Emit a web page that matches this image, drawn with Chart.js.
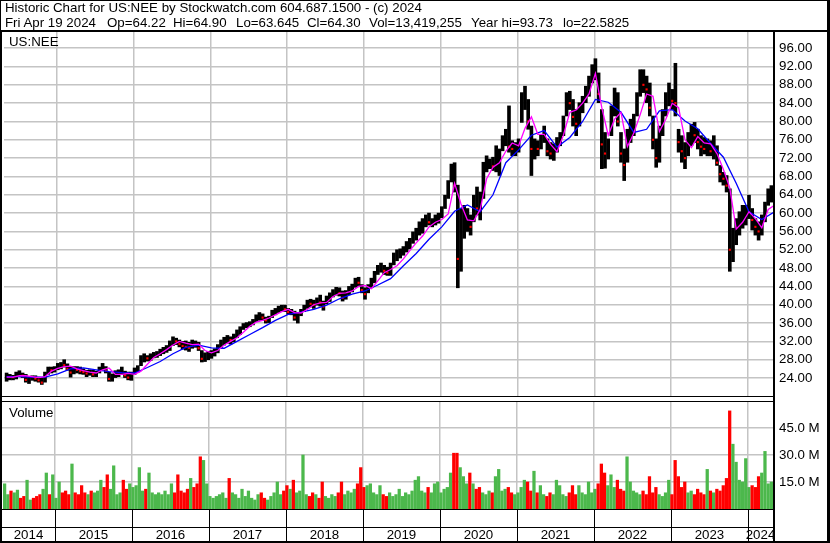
<!DOCTYPE html>
<html>
<head>
<meta charset="utf-8">
<title>Historic Chart for US:NEE</title>
<script src="https://cdn.jsdelivr.net/npm/chart.js@4.4.1/dist/chart.umd.min.js"></script>
<style>
  html, body { margin: 0; padding: 0; background: #fff; }
  #wrap { position: relative; width: 830px; height: 543px; overflow: hidden;
          font-family: 'Liberation Sans', Arial, sans-serif; font-size: 13.3px; color: #000; }
  #wrap canvas { position: absolute; left: 0; }
  .txt { position: absolute; white-space: pre; line-height: 14px; }
</style>
</head>
<body>
<div id="wrap">
  <canvas id="priceChart" width="830" height="400" style="top:0"></canvas>
  <canvas id="volChart" width="830" height="143" style="top:400px"></canvas>
  <div class="txt" style="left:5px;top:1px">Historic Chart for US:NEE by Stockwatch.com 604.687.1500 - (c) 2024</div>
  <div class="txt" style="left:5px;top:16px">Fri Apr 19 2024</div>
  <div class="txt" style="left:107px;top:16px">Op=64.22</div>
  <div class="txt" style="left:173px;top:16px">Hi=64.90</div>
  <div class="txt" style="left:236px;top:16px">Lo=63.645</div>
  <div class="txt" style="left:307px;top:16px">Cl=64.30</div>
  <div class="txt" style="left:369px;top:16px">Vol=13,419,255</div>
  <div class="txt" style="left:471px;top:16px">Year hi=93.73</div>
  <div class="txt" style="left:563px;top:16px">lo=22.5825</div>
  <div class="txt" style="left:9px;top:35px">US:NEE</div>
  <div class="txt" style="left:9px;top:406px">Volume</div>
</div>
<script>
// half-month periods, Apr 2014 .. Apr 2024 (240 of them)
const highs = [
  25.1, 24.8, 24.6, 25.3, 25.6, 25.1, 24.8, 24.3, 24.5, 24.5,
  24.2, 24.1, 25.3, 26.4, 26.4, 26.5, 27.2, 27.4, 28.0, 27.1,
  26.4, 26.5, 26.5, 26.4, 26.0, 25.7, 25.8, 25.7, 25.5, 26.4,
  27.2, 26.5, 25.3, 24.9, 25.6, 25.8, 26.4, 25.5, 25.3, 25.3,
  26.2, 26.7, 28.9, 29.3, 28.9, 29.3, 29.6, 29.8, 30.3, 30.7,
  31.1, 32.1, 33.0, 32.7, 32.3, 32.0, 32.1, 31.8, 32.3, 32.1,
  31.8, 30.0, 29.5, 29.8, 30.0, 30.4, 31.3, 32.3, 32.9, 33.3,
  33.0, 33.6, 34.5, 35.2, 35.9, 36.1, 36.3, 36.8, 37.8, 38.3,
  38.0, 37.3, 37.5, 38.8, 39.2, 39.7, 39.9, 39.9, 39.2, 39.0,
  38.6, 38.3, 39.0, 39.9, 41.0, 41.2, 41.0, 41.5, 42.1, 40.8,
  41.9, 42.6, 43.3, 43.8, 43.7, 43.0, 43.1, 44.0, 44.5, 45.8,
  46.0, 44.4, 43.7, 44.4, 45.8, 47.3, 48.6, 49.1, 48.6, 48.2,
  49.1, 51.3, 52.0, 52.2, 52.7, 53.8, 54.5, 55.9, 56.7, 58.1,
  58.8, 59.6, 60.0, 58.8, 59.6, 60.0, 61.4, 63.9, 67.1, 70.7,
  71.0, 66.1, 61.0, 61.7, 61.0, 59.6, 63.9, 65.7, 64.6, 71.1,
  72.5, 71.8, 72.2, 74.7, 74.0, 76.9, 78.3, 83.4, 75.8, 75.4,
  76.2, 86.3, 87.7, 84.8, 79.0, 76.2, 75.8, 77.2, 79.0, 76.2,
  75.4, 75.1, 76.5, 77.6, 81.2, 86.3, 86.6, 84.8, 82.6, 84.1,
  85.5, 87.7, 89.9, 92.4, 93.7, 90.6, 82.6, 77.6, 76.2, 83.4,
  87.3, 86.3, 77.6, 74.0, 78.3, 80.5, 81.6, 86.3, 91.3, 91.3,
  89.9, 88.4, 81.2, 76.2, 79.0, 82.6, 86.3, 88.4, 87.0, 92.7,
  78.3, 76.9, 75.4, 77.6, 79.4, 79.8, 78.3, 76.9, 76.5, 76.2,
  75.8, 76.9, 74.7, 70.4, 68.9, 68.2, 65.3, 56.7, 58.8, 60.3,
  61.7, 61.7, 63.9, 61.0, 58.8, 58.1, 59.6, 62.4, 65.3, 66.0
];
const lows = [
  23.3, 23.6, 23.6, 23.8, 24.3, 24.1, 23.1, 22.8, 23.5, 23.3,
  23.1, 22.6, 23.1, 24.8, 25.1, 25.3, 25.8, 26.0, 26.4, 25.7,
  24.2, 24.9, 25.1, 24.9, 24.8, 24.3, 24.6, 24.3, 24.3, 25.1,
  25.7, 25.1, 23.3, 23.3, 24.1, 24.3, 24.8, 24.1, 23.6, 23.5,
  24.8, 25.3, 26.7, 27.5, 27.7, 27.8, 28.4, 28.5, 28.9, 29.3,
  29.6, 30.0, 31.1, 31.3, 30.8, 30.3, 30.1, 29.8, 30.5, 30.7,
  30.0, 27.5, 27.6, 28.0, 28.3, 28.8, 29.5, 30.5, 31.2, 31.6,
  31.4, 31.9, 32.8, 33.5, 34.6, 35.0, 35.2, 35.6, 36.3, 36.6,
  36.6, 36.0, 36.1, 37.2, 37.8, 38.3, 38.6, 38.5, 37.9, 37.8,
  36.6, 36.0, 37.6, 38.5, 39.2, 39.5, 39.2, 39.9, 39.7, 38.8,
  40.2, 40.7, 41.7, 42.1, 41.9, 40.8, 41.2, 42.2, 42.8, 43.8,
  44.0, 42.6, 41.2, 42.6, 43.7, 44.8, 46.6, 47.1, 46.6, 46.4,
  46.4, 48.7, 49.6, 50.2, 50.8, 51.5, 52.2, 53.4, 54.1, 55.2,
  55.6, 57.0, 57.4, 57.0, 57.4, 57.8, 59.0, 61.0, 63.2, 66.8,
  64.6, 43.7, 47.3, 54.5, 56.0, 55.2, 58.1, 59.6, 58.5, 63.2,
  69.0, 69.7, 69.3, 69.0, 68.2, 73.6, 74.7, 73.3, 72.5, 72.5,
  73.3, 79.8, 82.6, 78.3, 68.2, 71.8, 72.5, 74.0, 75.4, 72.5,
  71.8, 71.5, 73.3, 74.7, 76.9, 81.2, 82.6, 79.0, 76.9, 79.0,
  81.9, 84.1, 85.5, 88.4, 89.1, 84.1, 69.7, 69.8, 71.8, 76.9,
  81.2, 79.0, 71.1, 67.1, 71.1, 75.4, 76.9, 81.2, 85.5, 86.3,
  84.1, 81.2, 74.0, 70.0, 71.1, 76.9, 81.2, 83.4, 82.6, 81.2,
  73.3, 71.1, 69.7, 72.5, 74.7, 75.4, 74.0, 72.5, 72.9, 72.5,
  72.5, 71.8, 70.4, 66.8, 66.1, 64.6, 47.3, 49.4, 53.1, 55.2,
  56.7, 57.4, 58.8, 56.3, 55.2, 54.1, 55.2, 58.1, 61.7, 62.4
];
const closes = [
  24.0, 24.3, 24.2, 24.8, 25.0, 24.5, 23.6, 24.0, 24.2, 23.9,
  23.5, 23.0, 25.0, 26.0, 25.7, 26.2, 26.8, 27.0, 26.8, 26.0,
  25.2, 25.9, 25.8, 25.5, 25.3, 25.0, 25.2, 24.8, 25.0, 26.0,
  26.6, 25.6, 23.8, 24.3, 25.0, 25.2, 25.6, 24.6, 24.1, 24.6,
  25.7, 26.3, 28.3, 28.5, 28.3, 28.6, 29.2, 29.5, 29.8, 30.3,
  30.5, 31.5, 32.5, 32.0, 31.4, 31.0, 30.8, 30.6, 31.5, 31.2,
  30.5, 28.2, 28.5, 29.0, 29.2, 29.8, 30.9, 31.9, 32.4, 32.6,
  32.3, 33.2, 34.0, 34.8, 35.4, 35.6, 35.9, 36.5, 37.4, 37.8,
  37.2, 36.6, 37.0, 38.4, 38.6, 39.2, 39.4, 39.0, 38.4, 38.5,
  37.2, 37.6, 38.6, 39.5, 40.4, 40.2, 40.0, 41.0, 40.5, 39.6,
  41.5, 42.0, 42.8, 43.1, 42.5, 41.5, 42.6, 43.5, 44.0, 45.2,
  44.8, 43.2, 42.3, 44.0, 45.3, 46.5, 48.0, 48.3, 47.4, 47.0,
  48.5, 50.5, 51.2, 51.5, 52.0, 53.0, 53.6, 55.0, 55.6, 57.3,
  58.0, 58.5, 58.0, 58.2, 59.0, 59.5, 60.8, 63.0, 66.0, 68.0,
  66.0, 50.0, 55.0, 58.0, 58.4, 57.0, 62.5, 61.0, 60.5, 69.0,
  70.5, 70.8, 70.2, 71.0, 72.0, 75.0, 76.5, 74.5, 74.0, 74.3,
  75.5, 84.0, 85.0, 80.0, 74.0, 74.5, 74.0, 76.0, 77.5, 73.5,
  73.0, 73.5, 75.5, 76.5, 80.0, 85.0, 84.0, 81.0, 79.5, 82.5,
  84.0, 86.5, 88.5, 91.0, 91.5, 86.0, 75.0, 73.0, 74.5, 81.0,
  85.0, 80.0, 73.0, 70.5, 76.0, 78.0, 80.0, 84.5, 89.0, 88.0,
  87.0, 83.0, 76.0, 72.0, 77.0, 80.5, 84.0, 86.0, 84.5, 84.0,
  75.5, 73.5, 72.0, 76.0, 78.5, 77.0, 75.5, 74.5, 74.0, 74.2,
  73.5, 74.5, 71.0, 68.5, 67.5, 66.0, 52.0, 54.0, 56.5, 58.0,
  59.5, 60.0, 60.5, 58.5, 57.0, 56.0, 58.0, 61.0, 63.5, 64.3
];
// volume per period, millions of shares
const volumes = [
  14, 8, 10, 9, 10.5, 6, 7, 16, 5, 6, 7, 8, 11, 20, 8, 19, 6,
  15, 9, 10, 8, 25, 9, 8, 13, 9, 8, 10, 9, 10, 16, 12, 19, 11, 24, 8, 9, 16, 11, 14, 12,
  13, 23, 10, 11, 20, 9, 8, 9, 8, 10, 8, 14, 9, 19, 10, 9, 11, 17, 12, 14, 29, 27, 14, 7,
  6, 7, 8, 9, 6, 17, 9, 8, 6, 11, 7, 10, 6, 5, 8, 9, 6, 5, 7, 9, 15, 8, 10, 13,
  11, 16, 9, 10, 30, 8, 7, 9, 8, 6, 15, 7, 6, 8, 7, 9, 15, 8, 10, 9, 11, 14, 23, 12,
  13, 14, 9, 8, 13, 8, 7, 9, 7, 8, 11, 7, 9, 8, 10, 16, 18, 10, 9, 12, 9, 14, 15, 9,
  11, 12, 20, 31, 31, 23, 18, 14, 20, 14, 11, 12, 9, 8, 10, 9, 18, 22, 10, 11, 12, 9, 8, 9,
  12, 16, 15, 10, 21, 9, 13, 8, 7, 9, 8, 16, 13, 8, 7, 9, 13, 8, 13, 9, 8, 15, 9, 11,
  14, 25, 20, 13, 19, 12, 16, 11, 10, 29, 15, 10, 9, 8, 10, 8, 18, 9, 12, 8, 7, 9, 16, 8,
  27, 18, 12, 15, 9, 10, 8, 11, 9, 8, 22, 10, 9, 11, 10, 13, 17, 54.5, 36, 26, 16, 15, 28, 12,
  13, 12, 18, 20, 32, 14, 15
];
// short average (magenta), one value a month
const fastMa = [
  24.2, 24.2, 24.5, 24.5, 24.3, 24.1, 24.3, 25.5, 26.1, 26.5,
  26.6, 26.0, 25.6, 25.3, 25.1, 25.8, 26.2, 24.8, 24.8, 25.0,
  24.8, 25.5, 27.0, 28.5, 29.3, 30.2, 31.2, 32.0, 31.6, 31.3,
  31.4, 30.0, 29.5, 30.0, 31.2, 32.0, 32.8, 34.0, 35.3, 36.2,
  36.6, 37.1, 37.8, 38.5, 39.0, 38.3, 38.2, 39.0, 40.0, 40.4,
  40.5, 41.8, 42.5, 42.6, 43.0, 44.0, 44.2, 43.5, 45.2, 47.0,
  47.7, 48.5, 50.0, 51.8, 53.5, 55.0, 57.0, 58.0, 58.6, 59.8,
  66.5, 62.0, 58.5, 58.3, 60.8, 67.5, 70.0, 71.0, 73.5, 75.3,
  74.7, 78.5, 81.0, 77.2, 77.2, 75.0, 73.4, 77.0, 82.0, 82.5,
  84.0, 86.0, 90.5, 83.0, 77.0, 80.5, 82.0, 74.5, 77.5, 81.5,
  86.0, 85.5, 77.8, 80.5, 84.0, 83.0, 76.0, 74.3, 76.7, 75.3,
  75.1, 73.0, 69.5, 65.5, 56.5, 58.0, 60.3, 58.8, 56.8, 60.8, 61.7
];
// long average (blue), one value every two months
const slowMa = [
  24.3, 24.3, 24.2, 24.2, 24.9, 26.0, 26.2, 25.8, 25.4, 25.2,
  25.1, 26.3, 27.6, 29.3, 30.7, 31.2, 30.6, 30.5, 32.0, 33.5,
  35.0, 36.6, 37.9, 38.4, 39.0, 39.9, 41.3, 42.3, 43.0, 44.3,
  45.7, 48.5, 51.2, 54.3, 57.0, 60.4, 61.8, 60.3, 64.0, 71.0,
  73.8, 77.0, 78.0, 74.4, 76.5, 80.0, 84.8, 84.2, 82.0, 77.6,
  78.3, 82.3, 82.6, 80.1, 78.4, 75.2, 72.2, 66.5, 60.3, 58.6, 60.3
];
const priceTicks = [24, 28, 32, 36, 40, 44, 48, 52, 56, 60, 64, 68, 72, 76, 80, 84, 88, 92, 96];
const volumeTicks = [15, 30, 45];
const yearStarts = [2015, 2016, 2017, 2018, 2019, 2020, 2021, 2022, 2023, 2024];
const yearLabels = ['2014', '2015', '2016', '2017', '2018', '2019', '2020', '2021', '2022', '2023', '2024'];

const FIRST = 2014.325;      // start of first half-month period (in years)
const X_MIN = 2014.312, X_MAX = 2024.325;
const periodX = i => FIRST + (i + 0.5) / 24;

const FONT = { family: "'Liberation Sans', Arial, sans-serif", size: 13.3 };
const GRID = '#c4c4c4';
const GREEN = '#4cb84c', RED = '#ff0000', GRAY = '#a8a8a8';

const direction = closes.map((c, i) => i === 0 || c > closes[i - 1] ? 1 : (c < closes[i - 1] ? -1 : 0));

const bounds = [X_MIN, ...yearStarts, X_MAX];
const yearMids = yearLabels.map((_, k) => (bounds[k] + bounds[k + 1]) / 2);

const fixWidth = s => { s.width = 57; s.paddingTop = 0; s.paddingBottom = 0; };

const priceFrame = {
  id: 'priceFrame',
  afterDraw(chart) {
    const ctx = chart.ctx, a = chart.chartArea;
    ctx.save();
    ctx.fillStyle = '#000';
    ctx.fillRect(0, 0, 830, 1);
    ctx.fillRect(0, 0, 1, 30);
    ctx.fillRect(0, 30, 830, 2);
    ctx.fillRect(0, 30, 2, chart.height);
    ctx.fillRect(a.right, 30, 2, chart.height);
    ctx.fillRect(827, 0, 3, chart.height);
    ctx.fillRect(0, a.bottom, a.right, 1);
    ctx.restore();
  }
};

const volumeFrame = {
  id: 'volumeFrame',
  afterDraw(chart) {
    const ctx = chart.ctx, a = chart.chartArea, H = chart.height;
    const xs = chart.scales.x;
    ctx.save();
    ctx.fillStyle = '#000';
    ctx.fillRect(0, 1, a.right, 1);
    ctx.fillRect(0, a.bottom, a.right, 1);
    ctx.fillRect(0, a.bottom + 18, a.right, 1);
    yearStarts.forEach(y => {
      const px = Math.round(xs.getPixelForValue(y));
      ctx.fillRect(px, a.bottom, 1, H - a.bottom);
    });
    ctx.fillRect(0, H - 2, 830, 2);
    ctx.fillRect(0, 0, 2, H);
    ctx.fillRect(a.right, 0, 2, H);
    ctx.fillRect(827, 0, 3, H);
    ctx.restore();
  }
};

new Chart(document.getElementById('priceChart'), {
  type: 'bar',
  data: {
    datasets: [
      {
        type: 'line', data: fastMa.map((v, k) => ({ x: periodX(2 * k), y: v })),
        borderColor: '#ff00ff', borderWidth: 1.3, pointRadius: 0, tension: 0, order: 0
      },
      {
        type: 'line', data: slowMa.map((v, k) => ({ x: periodX(4 * k), y: v })),
        borderColor: '#0000ff', borderWidth: 1.3, pointRadius: 0, tension: 0, order: 0
      },
      {
        type: 'line', showLine: false, order: 1,
        data: closes.map((c, i) => direction[i] < 0 ? { x: periodX(i), y: c } : null).filter(Boolean),
        pointStyle: 'rect', pointRadius: 1.5, pointBorderWidth: 0, pointBackgroundColor: RED
      },
      {
        data: highs.map((h, i) => ({ x: periodX(i), y: [lows[i], h] })),
        backgroundColor: '#000', borderWidth: 0, barThickness: 3, order: 2
      }
    ]
  },
  options: {
    responsive: false, animation: false, events: [],
    layout: { padding: { left: 2, top: 32, right: 0, bottom: 0 } },
    plugins: { legend: { display: false }, tooltip: { enabled: false } },
    scales: {
      x: {
        type: 'linear', min: X_MIN, max: X_MAX, offset: false,
        grid: { color: GRID, lineWidth: 1.5, drawTicks: false, offset: false },
        border: { display: false },
        ticks: { display: false },
        afterBuildTicks: s => { s.ticks = yearStarts.map(v => ({ value: v })); },
        afterFit: s => { s.height = 1; s.paddingLeft = 0; s.paddingRight = 0; }
      },
      y: {
        position: 'right', min: 20.08, max: 99.53,
        grid: { color: GRID, lineWidth: 1.5, drawTicks: false },
        border: { display: false },
        ticks: { font: FONT, color: '#000', padding: 6, autoSkip: false, callback: v => v.toFixed(2) },
        afterBuildTicks: s => { s.ticks = priceTicks.map(v => ({ value: v })); },
        afterFit: fixWidth
      }
    }
  },
  plugins: [priceFrame]
});

new Chart(document.getElementById('volChart'), {
  type: 'bar',
  data: {
    datasets: [{
      data: volumes.map((v, i) => ({ x: periodX(i), y: v })),
      backgroundColor: direction.map(d => d > 0 ? GREEN : (d < 0 ? RED : GRAY)),
      borderWidth: 0, barThickness: 2.6
    }]
  },
  options: {
    responsive: false, animation: false, events: [],
    layout: { padding: { left: 2, top: 2, right: 0, bottom: 0 } },
    plugins: { legend: { display: false }, tooltip: { enabled: false } },
    scales: {
      x: {
        type: 'linear', min: X_MIN, max: X_MAX, offset: false,
        grid: { color: GRID, lineWidth: 1.5, drawTicks: false, offset: false },
        border: { display: false },
        ticks: { display: false },
        afterBuildTicks: s => { s.ticks = yearStarts.map(v => ({ value: v })); },
        afterFit: s => { s.height = 0; s.paddingLeft = 0; s.paddingRight = 0; }
      },
      years: {
        type: 'linear', position: 'bottom', min: X_MIN, max: X_MAX, offset: false,
        grid: { display: false, drawTicks: false },
        border: { display: false },
        ticks: {
          font: FONT, color: '#000', padding: 18, autoSkip: false, maxRotation: 0,
          callback: (v, i) => yearLabels[i]
        },
        afterBuildTicks: s => { s.ticks = yearMids.map(v => ({ value: v })); },
        afterFit: s => { s.height = 34; s.paddingLeft = 0; s.paddingRight = 0; }
      },
      y: {
        position: 'right', min: 0, max: 59.44,
        grid: { color: GRID, lineWidth: 1.5, drawTicks: false },
        border: { display: false },
        ticks: { font: FONT, color: '#000', padding: 6, autoSkip: false, callback: v => v.toFixed(1) + ' M' },
        afterBuildTicks: s => { s.ticks = volumeTicks.map(v => ({ value: v })); },
        afterFit: fixWidth
      }
    }
  },
  plugins: [volumeFrame]
});
</script>
</body>
</html>
